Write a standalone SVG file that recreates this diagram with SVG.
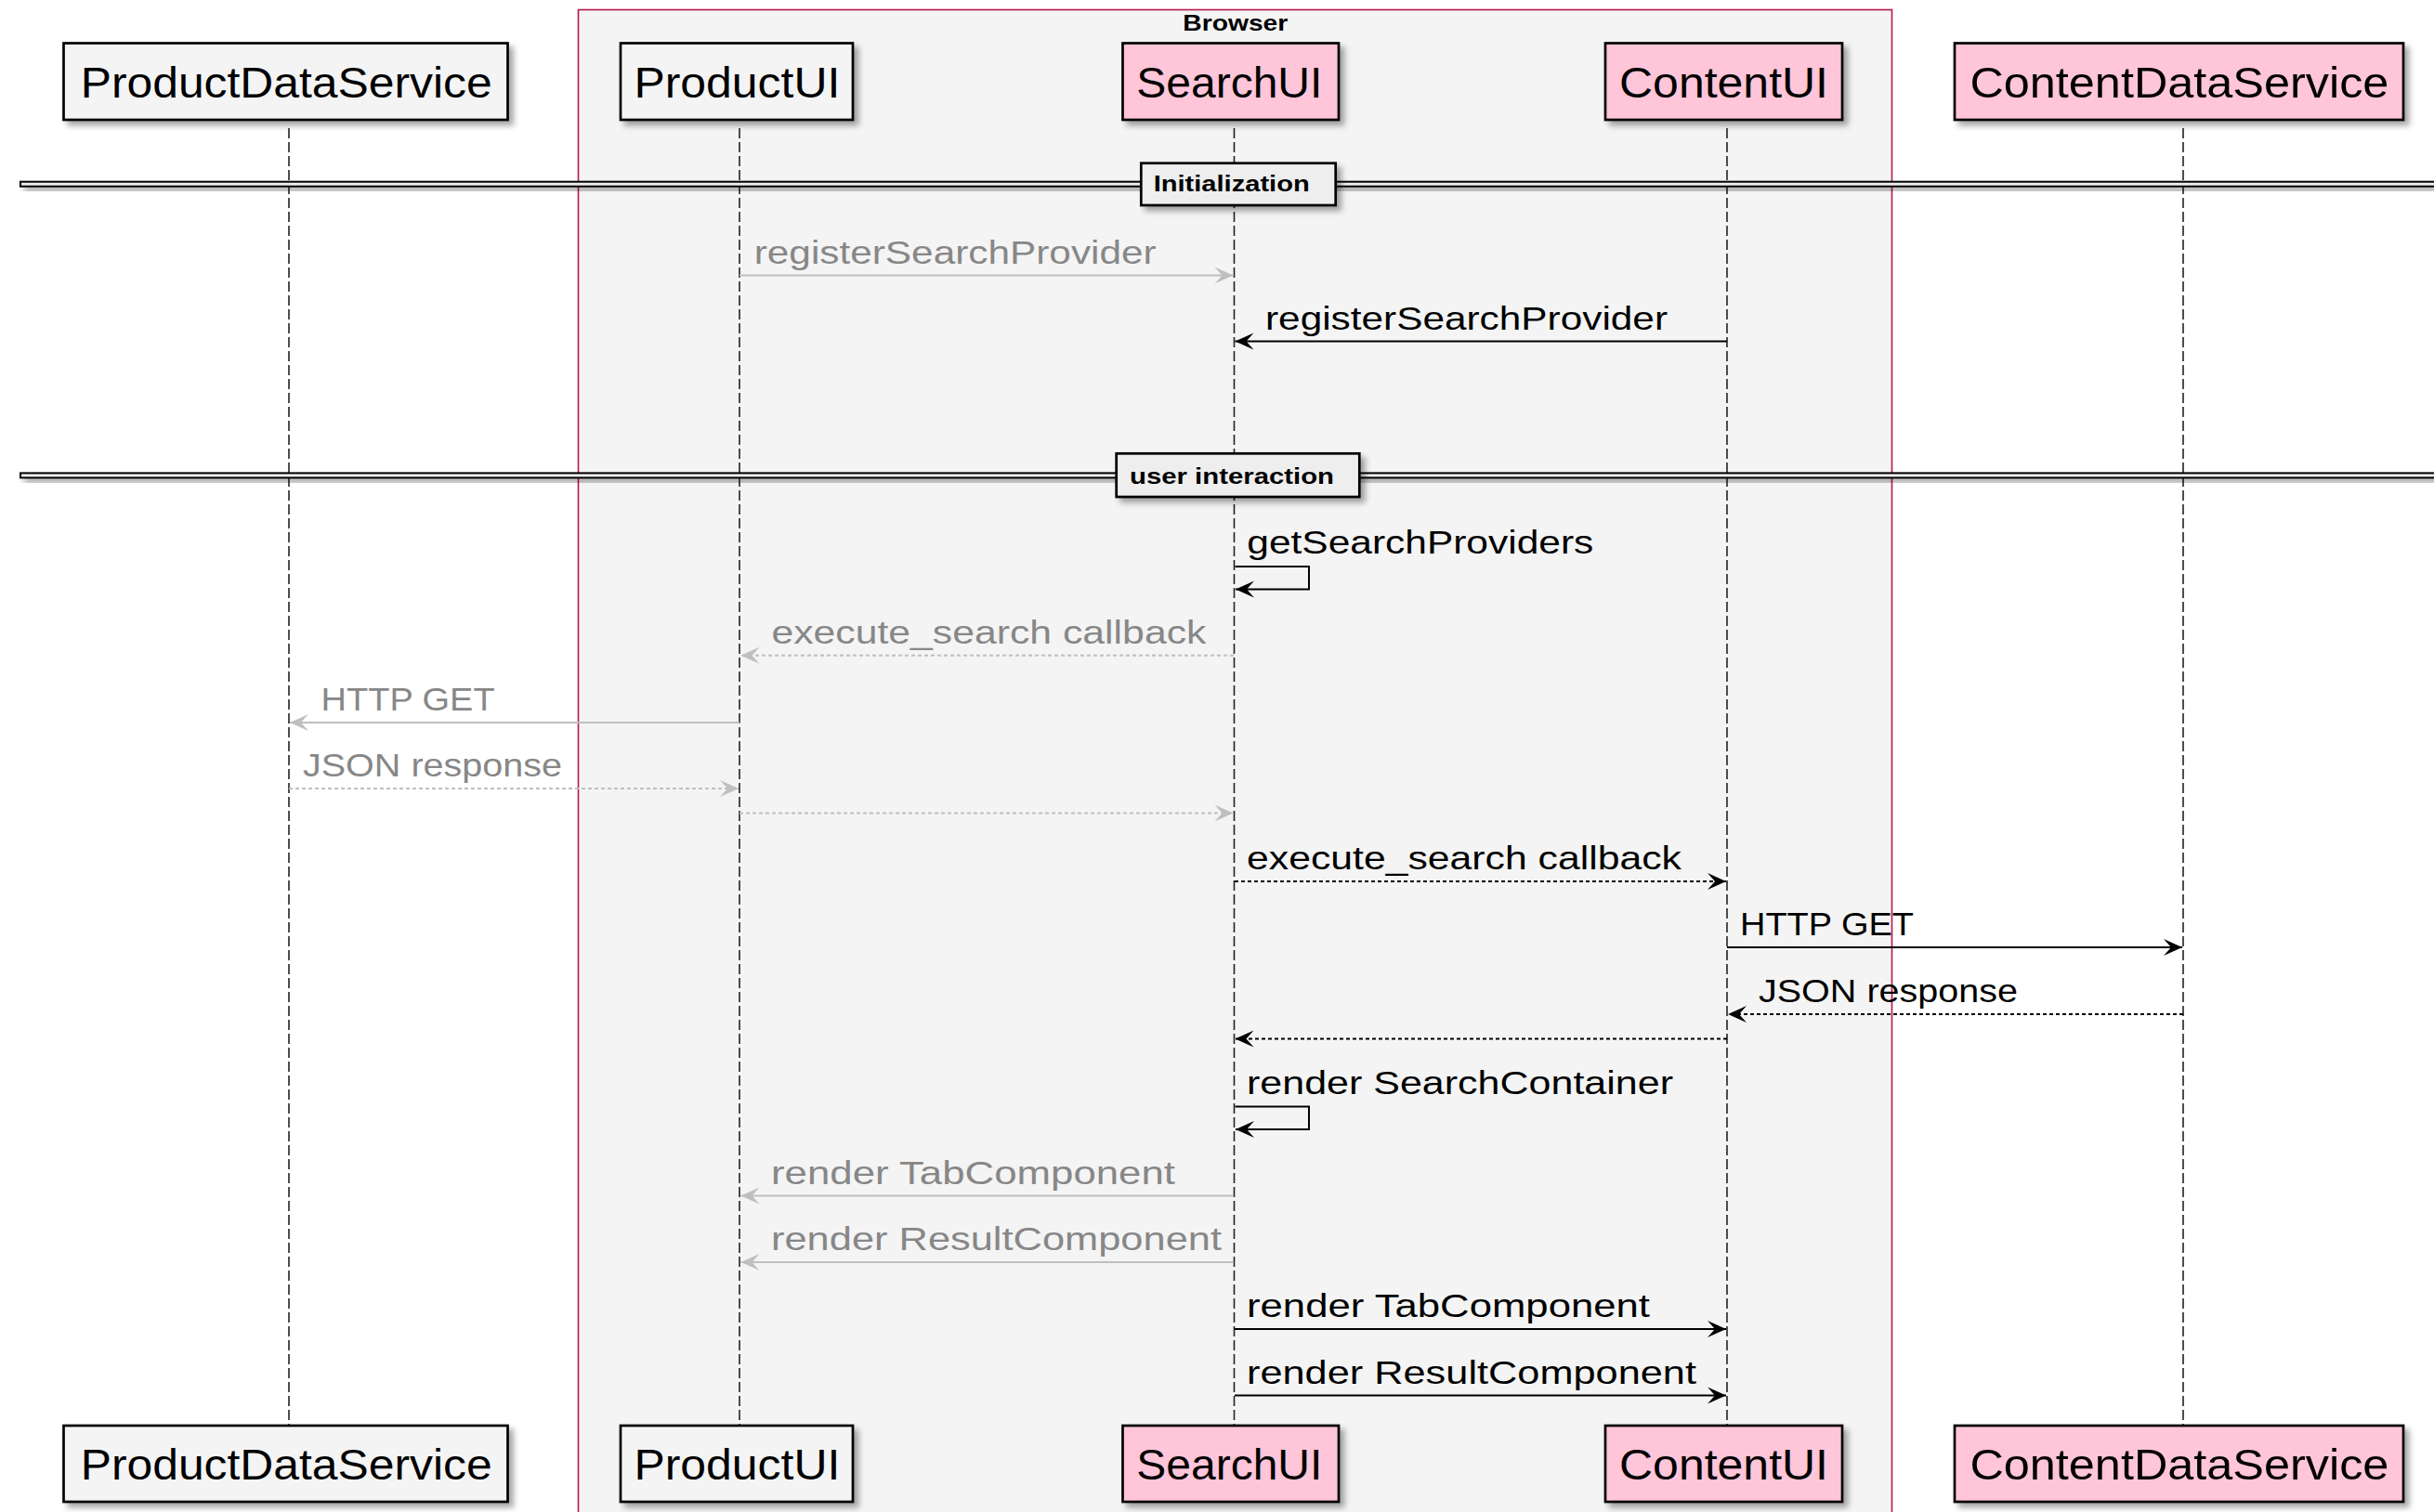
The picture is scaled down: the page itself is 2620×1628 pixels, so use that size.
<svg xmlns="http://www.w3.org/2000/svg" width="2620" height="1628" viewBox="0 0 2620 1628">
<style>
text{font-family:"Liberation Sans",Arial,Helvetica,sans-serif;}
.pbox{stroke:#000;stroke-width:2.7;filter:url(#sh);}
.plain{fill:#f4f4f4;}
.pink{fill:#ffc5d9;}
.pname{font-size:46px;fill:#000;}
.life{stroke:#222;stroke-width:1.6;stroke-dasharray:11 4;fill:none;}
.msg{font-size:35px;}
.blk{fill:#000;}
.gry{fill:#878787;}
.lb{stroke:#000;stroke-width:2;fill:none;}
.lg{stroke:#bfbfbf;stroke-width:2;fill:none;}
.dash{stroke-dasharray:4 3;}
.bold{font-weight:bold;font-size:24px;fill:#000;}
.band{fill:#eeeeee;stroke:#000;stroke-width:2;filter:url(#sh);}
.dbox{fill:#eeeeee;stroke:#000;stroke-width:2.7;filter:url(#sh);}
</style>
<defs>
<filter id="sh" x="-10%" y="-50%" width="120%" height="250%">
<feDropShadow dx="5" dy="5" stdDeviation="3" flood-color="#000" flood-opacity="0.35"/>
</filter>
<marker id="ab" markerUnits="userSpaceOnUse" markerWidth="40" markerHeight="40" refX="0" refY="0" orient="auto" overflow="visible">
<path d="M0,0 L-20,-9 L-12,0 L-20,9 Z" fill="#000"/>
</marker>
<marker id="ag" markerUnits="userSpaceOnUse" markerWidth="40" markerHeight="40" refX="0" refY="0" orient="auto" overflow="visible">
<path d="M0,0 L-20,-9 L-12,0 L-20,9 Z" fill="#bfbfbf"/>
</marker>
</defs>
<rect width="2620" height="1628" fill="#ffffff"/>

<g id="browser-box">
<rect x="622.5" y="10.5" width="1414" height="1700" fill="#f4f4f4" stroke="#b8164b" stroke-width="1.6"/>
<text class="bold" x="1273.3" y="33.3" font-size="23" textLength="113" lengthAdjust="spacingAndGlyphs">Browser</text>
</g>

<g id="lifelines">
<line class="life" x1="311" y1="138" x2="311" y2="1535"/>
<line class="life" x1="796" y1="138" x2="796" y2="1535"/>
<line class="life" x1="1328.5" y1="138" x2="1328.5" y2="1535"/>
<line class="life" x1="1859" y1="138" x2="1859" y2="1535"/>
<line class="life" x1="2350" y1="138" x2="2350" y2="1535"/>
</g>

<g id="divider-initialization">
<rect class="band" x="22" y="195.7" width="2610" height="5"/>
<rect class="dbox" x="1228.3" y="175.7" width="209.4" height="45.3"/>
<text class="bold" x="1241.7" y="206" textLength="168" lengthAdjust="spacingAndGlyphs">Initialization</text>
</g>

<g id="divider-user-interaction">
<rect class="band" x="22" y="509.4" width="2610" height="5"/>
<rect class="dbox" x="1201.7" y="488.3" width="261.6" height="46.7"/>
<text class="bold" x="1216" y="520.7" textLength="220" lengthAdjust="spacingAndGlyphs">user interaction</text>
</g>

<g id="connectors">
<line class="lg" x1="796" y1="296.5" x2="1327.5" y2="296.5" marker-end="url(#ag)"/>
<text class="msg gry" x="811.7" y="283.5" textLength="433" lengthAdjust="spacingAndGlyphs">registerSearchProvider</text>

<line class="lb" x1="1859" y1="367.5" x2="1329.5" y2="367.5" marker-end="url(#ab)"/>
<text class="msg blk" x="1362" y="354.5" textLength="433" lengthAdjust="spacingAndGlyphs">registerSearchProvider</text>

<path class="lb" d="M1329.5,610 H1409 V634.5 H1330" marker-end="url(#ab)"/>
<text class="msg blk" x="1342.3" y="596" textLength="373" lengthAdjust="spacingAndGlyphs">getSearchProviders</text>

<line class="lg dash" x1="1328" y1="705.7" x2="797.5" y2="705.7" marker-end="url(#ag)"/>
<text class="msg gry" x="830.4" y="692.7" textLength="468" lengthAdjust="spacingAndGlyphs">execute_search callback</text>

<line class="lg" x1="796" y1="778" x2="312" y2="778" marker-end="url(#ag)"/>
<text class="msg gry" x="345.6" y="765" textLength="187" lengthAdjust="spacingAndGlyphs">HTTP GET</text>

<line class="lg dash" x1="311" y1="849" x2="795" y2="849" marker-end="url(#ag)"/>
<text class="msg gry" x="326" y="836" textLength="279" lengthAdjust="spacingAndGlyphs">JSON response</text>

<line class="lg dash" x1="796" y1="875.6" x2="1327.5" y2="875.6" marker-end="url(#ag)"/>

<line class="lb dash" x1="1329" y1="949" x2="1858" y2="949" marker-end="url(#ab)"/>
<text class="msg blk" x="1342" y="936.4" textLength="468" lengthAdjust="spacingAndGlyphs">execute_search callback</text>

<line class="lb" x1="1859" y1="1020" x2="2349" y2="1020" marker-end="url(#ab)"/>
<text class="msg blk" x="1873" y="1007" textLength="187" lengthAdjust="spacingAndGlyphs">HTTP GET</text>

<line class="lb dash" x1="2350" y1="1092" x2="1860" y2="1092" marker-end="url(#ab)"/>
<text class="msg blk" x="1893" y="1079" textLength="279" lengthAdjust="spacingAndGlyphs">JSON response</text>

<line class="lb dash" x1="1859" y1="1118.5" x2="1329.5" y2="1118.5" marker-end="url(#ab)"/>

<path class="lb" d="M1329.5,1191.5 H1409 V1216 H1330" marker-end="url(#ab)"/>
<text class="msg blk" x="1342" y="1177.5" textLength="459" lengthAdjust="spacingAndGlyphs">render SearchContainer</text>

<line class="lg" x1="1328" y1="1287.5" x2="797.5" y2="1287.5" marker-end="url(#ag)"/>
<text class="msg gry" x="830" y="1274.5" textLength="435" lengthAdjust="spacingAndGlyphs">render TabComponent</text>

<line class="lg" x1="1328" y1="1359" x2="797.5" y2="1359" marker-end="url(#ag)"/>
<text class="msg gry" x="830" y="1346" textLength="485" lengthAdjust="spacingAndGlyphs">render ResultComponent</text>

<line class="lb" x1="1329" y1="1431" x2="1858" y2="1431" marker-end="url(#ab)"/>
<text class="msg blk" x="1342" y="1418" textLength="434" lengthAdjust="spacingAndGlyphs">render TabComponent</text>

<line class="lb" x1="1329" y1="1502.5" x2="1858" y2="1502.5" marker-end="url(#ab)"/>
<text class="msg blk" x="1342" y="1489.5" textLength="484" lengthAdjust="spacingAndGlyphs">render ResultComponent</text>
</g>

<g id="ProductDataService-top">
<rect class="pbox plain" x="68.5" y="46.5" width="478" height="82.5"/>
<text class="pname" x="86.7" y="104.5" textLength="443" lengthAdjust="spacingAndGlyphs">ProductDataService</text>
</g>
<g id="ProductUI-top">
<rect class="pbox plain" x="668" y="46.5" width="250" height="82.5"/>
<text class="pname" x="682.4" y="104.5" textLength="222" lengthAdjust="spacingAndGlyphs">ProductUI</text>
</g>
<g id="SearchUI-top">
<rect class="pbox pink" x="1208.5" y="46.5" width="232.5" height="82.5"/>
<text class="pname" x="1223.3" y="104.5" textLength="200" lengthAdjust="spacingAndGlyphs">SearchUI</text>
</g>
<g id="ContentUI-top">
<rect class="pbox pink" x="1728" y="46.5" width="255" height="82.5"/>
<text class="pname" x="1743" y="104.5" textLength="225" lengthAdjust="spacingAndGlyphs">ContentUI</text>
</g>
<g id="ContentDataService-top">
<rect class="pbox pink" x="2104" y="46.5" width="483" height="82.5"/>
<text class="pname" x="2120.4" y="104.5" textLength="451" lengthAdjust="spacingAndGlyphs">ContentDataService</text>
</g>

<g id="ProductDataService-bottom">
<rect class="pbox plain" x="68.5" y="1535" width="478" height="82"/>
<text class="pname" x="86.7" y="1593" textLength="443" lengthAdjust="spacingAndGlyphs">ProductDataService</text>
</g>
<g id="ProductUI-bottom">
<rect class="pbox plain" x="668" y="1535" width="250" height="82"/>
<text class="pname" x="682.4" y="1593" textLength="222" lengthAdjust="spacingAndGlyphs">ProductUI</text>
</g>
<g id="SearchUI-bottom">
<rect class="pbox pink" x="1208.5" y="1535" width="232.5" height="82"/>
<text class="pname" x="1223.3" y="1593" textLength="200" lengthAdjust="spacingAndGlyphs">SearchUI</text>
</g>
<g id="ContentUI-bottom">
<rect class="pbox pink" x="1728" y="1535" width="255" height="82"/>
<text class="pname" x="1743" y="1593" textLength="225" lengthAdjust="spacingAndGlyphs">ContentUI</text>
</g>
<g id="ContentDataService-bottom">
<rect class="pbox pink" x="2104" y="1535" width="483" height="82"/>
<text class="pname" x="2120.4" y="1593" textLength="451" lengthAdjust="spacingAndGlyphs">ContentDataService</text>
</g>
</svg>
